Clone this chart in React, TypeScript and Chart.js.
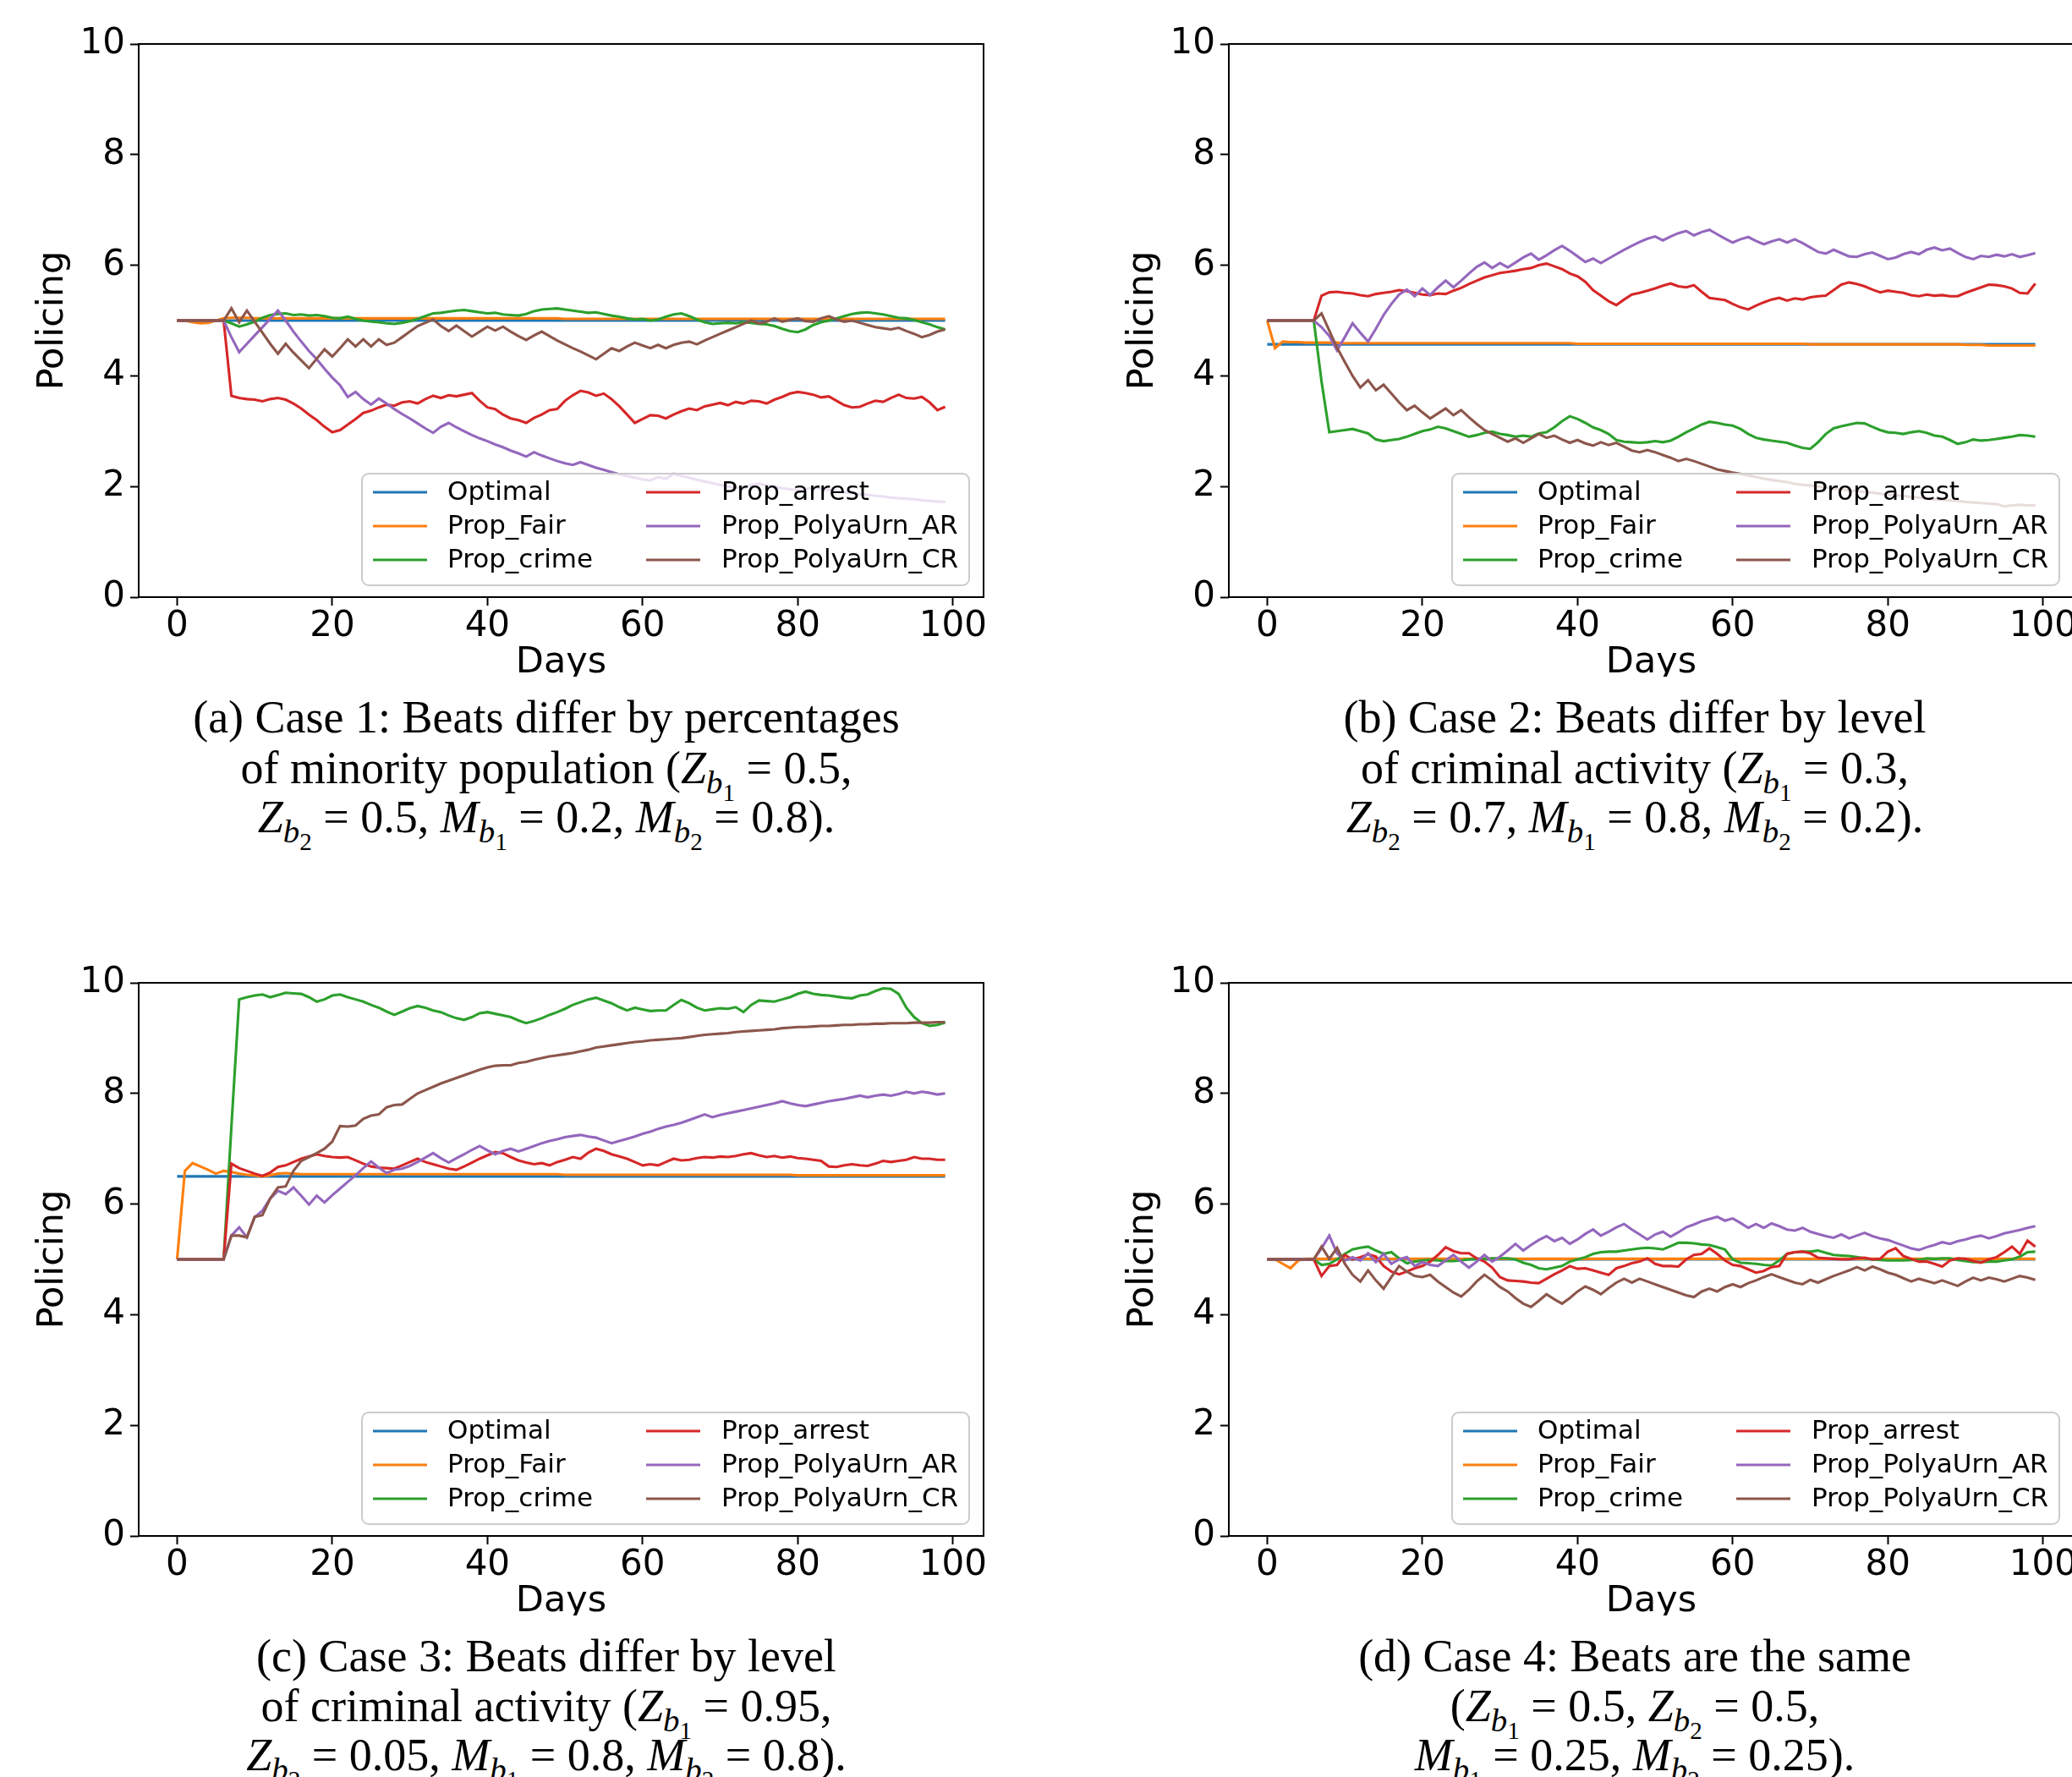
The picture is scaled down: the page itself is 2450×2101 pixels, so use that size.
import React, { useEffect, useRef } from "react";
import { Chart, registerables } from "chart.js";

Chart.register(...registerables);

// ---------- data ----------
const DAYS = Array.from({ length: 100 }, (_, i) => i);
const X_TICKS = [0, 20, 40, 60, 80, 100];
const Y_TICKS = [0, 2, 4, 6, 8, 10];
const LABELS = ["Optimal", "Prop_Fair", "Prop_crime", "Prop_arrest", "Prop_PolyaUrn_AR", "Prop_PolyaUrn_CR"];
const COLORS = ["#1f77b4", "#ff7f0e", "#2ca02c", "#d62728", "#9467bd", "#8c564b"];

// Case 1
const A_OPTIMAL = [
  5, 5, 5, 5, 5, 5, 5, 5, 5, 5,
  5, 5, 5, 5, 5, 5, 5, 5, 5, 5,
  5, 5, 5, 5, 5, 5, 5, 5, 5, 5,
  5, 5, 5, 5, 5, 5, 5, 5, 5, 5,
  5, 5, 5, 5, 5, 5, 5, 5, 5, 5,
  5, 5, 5, 5, 5, 5, 5, 5, 5, 5,
  5, 5, 5, 5, 5, 5, 5, 5, 5, 5,
  5, 5, 5, 5, 5, 5, 5, 5, 5, 5,
  5, 5, 5, 5, 5, 5, 5, 5, 5, 5,
  5, 5, 5, 5, 5, 5, 5, 5, 5, 5,
];
const A_FAIR = [
  5, 5, 4.97, 4.95, 4.96, 5, 5.04, 5.05, 5.05, 5.05,
  5.04, 5.04, 5.04, 5.04, 5.04, 5.04, 5.04, 5.04, 5.04, 5.04,
  5.04, 5.04, 5.04, 5.04, 5.04, 5.04, 5.04, 5.04, 5.04, 5.04,
  5.04, 5.04, 5.04, 5.04, 5.04, 5.04, 5.04, 5.04, 5.04, 5.04,
  5.04, 5.04, 5.04, 5.04, 5.04, 5.04, 5.04, 5.04, 5.04, 5.04,
  5.03, 5.03, 5.03, 5.03, 5.03, 5.03, 5.03, 5.03, 5.03, 5.03,
  5.03, 5.03, 5.03, 5.03, 5.03, 5.03, 5.03, 5.03, 5.03, 5.03,
  5.03, 5.03, 5.03, 5.03, 5.03, 5.03, 5.03, 5.03, 5.03, 5.03,
  5.03, 5.03, 5.03, 5.03, 5.03, 5.03, 5.03, 5.03, 5.03, 5.03,
  5.03, 5.03, 5.03, 5.03, 5.03, 5.03, 5.03, 5.03, 5.03, 5.03,
];
const A_CRIME = [
  5, 5, 5, 5, 5, 5, 5, 4.95, 4.89, 4.93,
  4.98, 5.05, 5.1, 5.12, 5.13, 5.1, 5.11, 5.09, 5.1, 5.08,
  5.05, 5.04, 5.07, 5.03, 5, 4.98, 4.97, 4.95, 4.94, 4.96,
  4.99, 5.03, 5.08, 5.13, 5.14, 5.16, 5.18, 5.19, 5.17, 5.15,
  5.13, 5.14, 5.11, 5.1, 5.09, 5.12, 5.17, 5.2, 5.21, 5.22,
  5.2, 5.18, 5.16, 5.14, 5.15, 5.12, 5.09, 5.07, 5.04, 5.02,
  5.03, 5, 5.02, 5.07, 5.11, 5.13, 5.08, 5.02, 4.97, 4.94,
  4.95, 4.96, 4.95, 4.97, 4.96, 4.94, 4.93, 4.9, 4.85, 4.81,
  4.79, 4.84, 4.92, 4.97, 5, 5.04, 5.08, 5.12, 5.14, 5.15,
  5.13, 5.11, 5.08, 5.05, 5.04, 5.01, 4.97, 4.93, 4.88, 4.84,
];
const A_ARREST = [
  5, 5, 5, 5, 5, 5, 5, 3.64, 3.6, 3.58,
  3.57, 3.54, 3.58, 3.6, 3.57, 3.5, 3.41, 3.3, 3.2, 3.08,
  2.98, 3.02, 3.12, 3.22, 3.33, 3.37, 3.43, 3.48, 3.46, 3.52,
  3.54, 3.5, 3.58, 3.64, 3.6, 3.65, 3.63, 3.66, 3.69, 3.55,
  3.43, 3.4, 3.3, 3.23, 3.2, 3.15, 3.24, 3.3, 3.38, 3.4,
  3.55, 3.65, 3.73, 3.7, 3.64, 3.68, 3.58, 3.45, 3.3, 3.15,
  3.22, 3.29, 3.28, 3.23, 3.3, 3.36, 3.41, 3.38, 3.45, 3.48,
  3.51, 3.47, 3.53, 3.5, 3.55, 3.54, 3.5, 3.57, 3.62, 3.68,
  3.71, 3.69, 3.66, 3.61, 3.63, 3.55, 3.47, 3.43, 3.44, 3.5,
  3.55, 3.53, 3.6, 3.66, 3.6, 3.59, 3.62, 3.52, 3.38, 3.44,
];
const A_POLYA_AR = [
  5, 5, 5, 5, 5, 5, 5, 4.7, 4.43, 4.58,
  4.73, 4.88, 5.03, 5.18, 5, 4.8, 4.62, 4.45, 4.3, 4.13,
  3.97, 3.83, 3.62, 3.71, 3.58, 3.48, 3.59, 3.5, 3.4, 3.31,
  3.23, 3.14, 3.05, 2.97, 3.08, 3.15, 3.07, 3, 2.93, 2.87,
  2.82, 2.76, 2.71, 2.65, 2.6, 2.54, 2.62, 2.56, 2.51, 2.46,
  2.42, 2.39, 2.44, 2.39, 2.34, 2.3, 2.26, 2.22, 2.19, 2.16,
  2.13, 2.11, 2.17, 2.14, 2.23, 2.19, 2.16, 2.12, 2.09, 2.06,
  2.03, 2, 1.98, 1.96, 2.03, 2.05, 2.02, 2, 1.97, 1.95,
  1.93, 1.95, 1.98, 1.96, 1.94, 1.92, 1.9, 1.88, 1.86, 1.85,
  1.83, 1.82, 1.8, 1.79, 1.78, 1.77, 1.75, 1.74, 1.73, 1.72,
];
const A_POLYA_CR = [
  5, 5, 5, 5, 5, 5, 5, 5.22, 4.97, 5.18,
  4.98, 4.78, 4.58, 4.4, 4.58, 4.42, 4.28, 4.14, 4.31, 4.48,
  4.35, 4.5, 4.66, 4.53, 4.66, 4.53, 4.66, 4.56, 4.6, 4.7,
  4.8, 4.9, 4.96, 5.02, 4.9, 4.81, 4.91, 4.81, 4.71, 4.8,
  4.89, 4.82, 4.89, 4.8, 4.72, 4.65, 4.73, 4.8, 4.72, 4.64,
  4.57, 4.5, 4.44, 4.37, 4.3, 4.4, 4.5, 4.45, 4.53, 4.6,
  4.55, 4.5, 4.56, 4.5, 4.56, 4.6, 4.62, 4.57, 4.64, 4.7,
  4.76, 4.82, 4.88, 4.94, 5, 4.95, 4.98, 5.04, 4.98, 5.01,
  5.04, 4.99, 4.98, 5.04, 5.08, 5.02, 4.98, 5, 4.96, 4.92,
  4.88, 4.86, 4.84, 4.87, 4.81, 4.76, 4.7, 4.74, 4.8, 4.84,
];

// Case 2
const B_OPTIMAL = [
  4.57, 4.57, 4.57, 4.57, 4.57, 4.57, 4.57, 4.57, 4.57, 4.57,
  4.57, 4.57, 4.57, 4.57, 4.57, 4.57, 4.57, 4.57, 4.57, 4.57,
  4.57, 4.57, 4.57, 4.57, 4.57, 4.57, 4.57, 4.57, 4.57, 4.57,
  4.57, 4.57, 4.57, 4.57, 4.57, 4.57, 4.57, 4.57, 4.57, 4.57,
  4.57, 4.57, 4.57, 4.57, 4.57, 4.57, 4.57, 4.57, 4.57, 4.57,
  4.57, 4.57, 4.57, 4.57, 4.57, 4.57, 4.57, 4.57, 4.57, 4.57,
  4.57, 4.57, 4.57, 4.57, 4.57, 4.57, 4.57, 4.57, 4.57, 4.57,
  4.57, 4.57, 4.57, 4.57, 4.57, 4.57, 4.57, 4.57, 4.57, 4.57,
  4.57, 4.57, 4.57, 4.57, 4.57, 4.57, 4.57, 4.57, 4.57, 4.57,
  4.57, 4.57, 4.57, 4.57, 4.57, 4.57, 4.57, 4.57, 4.57, 4.57,
];
const B_FAIR = [
  5, 4.5, 4.62, 4.61, 4.61, 4.6, 4.6, 4.6, 4.6, 4.6,
  4.59, 4.59, 4.59, 4.59, 4.59, 4.59, 4.59, 4.59, 4.59, 4.59,
  4.59, 4.59, 4.59, 4.59, 4.59, 4.59, 4.59, 4.59, 4.59, 4.59,
  4.59, 4.59, 4.59, 4.59, 4.59, 4.59, 4.59, 4.59, 4.59, 4.59,
  4.58, 4.58, 4.58, 4.58, 4.58, 4.58, 4.58, 4.58, 4.58, 4.58,
  4.58, 4.58, 4.58, 4.58, 4.58, 4.58, 4.58, 4.58, 4.58, 4.58,
  4.58, 4.58, 4.58, 4.58, 4.58, 4.58, 4.58, 4.58, 4.58, 4.58,
  4.57, 4.57, 4.57, 4.57, 4.57, 4.57, 4.57, 4.57, 4.57, 4.57,
  4.57, 4.57, 4.57, 4.57, 4.57, 4.57, 4.57, 4.57, 4.57, 4.57,
  4.56, 4.56, 4.56, 4.55, 4.55, 4.55, 4.55, 4.55, 4.55, 4.55,
];
const B_CRIME = [
  5, 5, 5, 5, 5, 5, 5, 3.9, 2.98, 3,
  3.02, 3.04, 3, 2.96, 2.85, 2.82, 2.84, 2.86, 2.9, 2.95,
  3, 3.03, 3.08, 3.05, 3, 2.95, 2.9, 2.93, 2.97, 2.99,
  2.95, 2.93, 2.9, 2.92, 2.9, 2.96, 2.98, 3.07, 3.18, 3.27,
  3.22, 3.15, 3.07, 3.02, 2.95, 2.84, 2.81, 2.8, 2.79, 2.8,
  2.82, 2.8, 2.83, 2.9, 2.98, 3.05, 3.12, 3.17, 3.15, 3.12,
  3.1, 3.04, 2.95, 2.88, 2.85, 2.83, 2.81, 2.79, 2.74, 2.7,
  2.68, 2.8, 2.95, 3.05, 3.09, 3.12, 3.15, 3.14, 3.08, 3.02,
  2.98, 2.97, 2.95, 2.98, 3, 2.97, 2.92, 2.9, 2.84, 2.77,
  2.8, 2.85, 2.83, 2.84, 2.86, 2.88, 2.9, 2.93, 2.92, 2.9,
];
const B_ARREST = [
  5, 5, 5, 5, 5, 5, 5, 5.45, 5.51, 5.52,
  5.5, 5.49, 5.46, 5.44, 5.48, 5.5, 5.52, 5.55, 5.53, 5.5,
  5.47, 5.46, 5.49, 5.48, 5.54, 5.59, 5.66, 5.72, 5.78, 5.82,
  5.86, 5.88, 5.9, 5.93, 5.95, 6, 6.03, 5.98, 5.93, 5.85,
  5.8, 5.7, 5.55, 5.45, 5.35, 5.28, 5.38, 5.47, 5.5, 5.54,
  5.58, 5.63, 5.67, 5.62, 5.6, 5.64, 5.52, 5.41, 5.39, 5.37,
  5.3, 5.24, 5.2, 5.27, 5.33, 5.38, 5.41, 5.36, 5.4, 5.38,
  5.42, 5.44, 5.45, 5.55, 5.65, 5.69, 5.66, 5.62, 5.56, 5.51,
  5.54, 5.52, 5.5, 5.46, 5.44, 5.47, 5.45, 5.46, 5.44, 5.44,
  5.5, 5.55, 5.6, 5.65, 5.64, 5.62, 5.58, 5.5, 5.49, 5.67,
];
const B_POLYA_AR = [
  5, 5, 5, 5, 5, 5, 5, 4.88, 4.72, 4.46,
  4.7, 4.95, 4.78, 4.62, 4.85, 5.1, 5.3, 5.47, 5.56, 5.44,
  5.58, 5.46, 5.6, 5.72, 5.6, 5.72, 5.85, 5.97, 6.05, 5.95,
  6.04, 5.96, 6.05, 6.14, 6.21, 6.1, 6.18, 6.27, 6.35, 6.26,
  6.16, 6.06, 6.12, 6.04, 6.12, 6.2, 6.28, 6.35, 6.42, 6.48,
  6.52, 6.45, 6.52, 6.58, 6.62, 6.54, 6.6, 6.64, 6.56, 6.48,
  6.41, 6.47, 6.51, 6.44, 6.38, 6.43, 6.47, 6.41, 6.47, 6.4,
  6.32, 6.24, 6.21, 6.28, 6.22, 6.16, 6.15, 6.2, 6.23, 6.17,
  6.11, 6.14, 6.2, 6.24, 6.2, 6.28, 6.32, 6.27, 6.3, 6.22,
  6.15, 6.11, 6.17, 6.15, 6.19, 6.16, 6.2, 6.15, 6.18, 6.22,
];
const B_POLYA_CR = [
  5, 5, 5, 5, 5, 5, 5, 5.13, 4.82, 4.51,
  4.25, 4, 3.79, 3.92, 3.74, 3.84, 3.68, 3.52, 3.38, 3.46,
  3.34, 3.23, 3.32, 3.41, 3.29, 3.38, 3.25, 3.13, 3.02, 2.95,
  2.88, 2.81, 2.87, 2.79, 2.87, 2.95, 2.88, 2.92, 2.85, 2.79,
  2.84, 2.78, 2.74, 2.8, 2.75, 2.79, 2.72, 2.65, 2.62, 2.66,
  2.62, 2.57, 2.52, 2.46, 2.5, 2.46, 2.41, 2.36, 2.31, 2.28,
  2.25, 2.23, 2.2, 2.17, 2.14, 2.12, 2.1, 2.08, 2.05, 2.03,
  2.02, 2, 1.98, 1.96, 1.95, 1.93, 1.92, 1.9, 1.89, 1.87,
  1.85, 1.84, 1.83, 1.81, 1.8, 1.78, 1.77, 1.76, 1.75, 1.74,
  1.72, 1.71, 1.7, 1.69, 1.68, 1.64, 1.66, 1.67, 1.66, 1.66,
];

// Case 3
const C_OPTIMAL = [
  6.5, 6.5, 6.5, 6.5, 6.5, 6.5, 6.5, 6.5, 6.5, 6.5,
  6.5, 6.5, 6.5, 6.5, 6.5, 6.5, 6.5, 6.5, 6.5, 6.5,
  6.5, 6.5, 6.5, 6.5, 6.5, 6.5, 6.5, 6.5, 6.5, 6.5,
  6.5, 6.5, 6.5, 6.5, 6.5, 6.5, 6.5, 6.5, 6.5, 6.5,
  6.5, 6.5, 6.5, 6.5, 6.5, 6.5, 6.5, 6.5, 6.5, 6.5,
  6.5, 6.5, 6.5, 6.5, 6.5, 6.5, 6.5, 6.5, 6.5, 6.5,
  6.5, 6.5, 6.5, 6.5, 6.5, 6.5, 6.5, 6.5, 6.5, 6.5,
  6.5, 6.5, 6.5, 6.5, 6.5, 6.5, 6.5, 6.5, 6.5, 6.5,
  6.5, 6.5, 6.5, 6.5, 6.5, 6.5, 6.5, 6.5, 6.5, 6.5,
  6.5, 6.5, 6.5, 6.5, 6.5, 6.5, 6.5, 6.5, 6.5, 6.5,
];
const C_FAIR = [
  5, 6.6, 6.74, 6.68, 6.62, 6.55, 6.6, 6.58, 6.55, 6.53,
  6.52, 6.5, 6.52, 6.55, 6.56, 6.55, 6.54, 6.54, 6.54, 6.54,
  6.54, 6.54, 6.54, 6.54, 6.54, 6.54, 6.54, 6.54, 6.54, 6.54,
  6.54, 6.54, 6.54, 6.54, 6.54, 6.54, 6.54, 6.54, 6.54, 6.54,
  6.54, 6.54, 6.54, 6.54, 6.54, 6.54, 6.54, 6.54, 6.54, 6.54,
  6.53, 6.53, 6.53, 6.53, 6.53, 6.53, 6.53, 6.53, 6.53, 6.53,
  6.53, 6.53, 6.53, 6.53, 6.53, 6.53, 6.53, 6.53, 6.53, 6.53,
  6.53, 6.53, 6.53, 6.53, 6.53, 6.53, 6.53, 6.53, 6.53, 6.53,
  6.52, 6.52, 6.52, 6.52, 6.52, 6.52, 6.52, 6.52, 6.52, 6.52,
  6.52, 6.52, 6.52, 6.52, 6.52, 6.52, 6.52, 6.52, 6.52, 6.52,
];
const C_CRIME = [
  5, 5, 5, 5, 5, 5, 5, 7.4, 9.7, 9.74,
  9.77, 9.79, 9.74, 9.78, 9.82, 9.81, 9.8, 9.74, 9.66, 9.7,
  9.77, 9.79, 9.74, 9.7, 9.66, 9.6, 9.55, 9.48, 9.42, 9.48,
  9.54, 9.58, 9.55, 9.5, 9.47, 9.41, 9.36, 9.33, 9.38, 9.45,
  9.47, 9.44, 9.41, 9.38, 9.32, 9.27, 9.31, 9.36, 9.42, 9.47,
  9.53, 9.6, 9.65, 9.7, 9.73, 9.68, 9.63, 9.56, 9.5, 9.55,
  9.52, 9.49, 9.5, 9.5, 9.6, 9.69, 9.63, 9.55, 9.5, 9.52,
  9.54, 9.53, 9.56, 9.47, 9.6, 9.68, 9.67, 9.66, 9.7, 9.74,
  9.8, 9.84, 9.8, 9.78, 9.77, 9.75, 9.73, 9.72, 9.77, 9.79,
  9.85, 9.9, 9.89, 9.8, 9.55, 9.38, 9.27, 9.22, 9.24, 9.28,
];
const C_ARREST = [
  5, 5, 5, 5, 5, 5, 5, 6.73, 6.65, 6.6,
  6.55, 6.51, 6.57, 6.67, 6.7, 6.76, 6.82, 6.86, 6.9, 6.87,
  6.85, 6.84, 6.85, 6.79, 6.73, 6.68, 6.66, 6.65, 6.64, 6.7,
  6.76, 6.82, 6.76, 6.72, 6.68, 6.64, 6.62, 6.68, 6.75, 6.82,
  6.88, 6.94, 6.92, 6.85, 6.79, 6.75, 6.72, 6.74, 6.7, 6.76,
  6.8, 6.85, 6.82, 6.93, 7, 6.96, 6.9, 6.86, 6.82, 6.76,
  6.7, 6.72, 6.7, 6.76, 6.82, 6.79, 6.8, 6.83, 6.85, 6.84,
  6.86, 6.85, 6.87, 6.9, 6.92, 6.88, 6.85, 6.87, 6.84, 6.86,
  6.83, 6.82, 6.8, 6.78, 6.68, 6.67, 6.7, 6.72, 6.7, 6.69,
  6.73, 6.78, 6.76, 6.78, 6.8, 6.85, 6.82, 6.82, 6.8, 6.8,
];
const C_POLYA_AR = [
  5, 5, 5, 5, 5, 5, 5, 5.43, 5.58, 5.4,
  5.76, 5.88, 6.1, 6.24, 6.18, 6.3, 6.15, 5.99, 6.15, 6.03,
  6.16, 6.28, 6.4, 6.52, 6.65, 6.77, 6.66, 6.56, 6.62, 6.64,
  6.69, 6.76, 6.84, 6.92, 6.83, 6.75, 6.83, 6.9, 6.98, 7.05,
  6.97, 6.9, 6.96, 7, 6.95, 7, 7.05, 7.1, 7.14, 7.17,
  7.21, 7.23, 7.25, 7.22, 7.2, 7.15, 7.1, 7.14, 7.18, 7.22,
  7.27, 7.31, 7.36, 7.4, 7.43, 7.47, 7.52, 7.57, 7.62, 7.57,
  7.61, 7.64, 7.67, 7.7, 7.73, 7.76, 7.79, 7.82, 7.86, 7.82,
  7.79, 7.77, 7.8, 7.83, 7.86, 7.88, 7.9, 7.93, 7.96, 7.93,
  7.96, 7.98, 7.96, 7.99, 8.03, 8, 8.03, 8.01, 7.98, 8,
];
const C_POLYA_CR = [
  5, 5, 5, 5, 5, 5, 5, 5.43, 5.43, 5.4,
  5.77, 5.8, 6.1, 6.3, 6.32, 6.6, 6.78, 6.85, 6.92, 7,
  7.13, 7.41, 7.4, 7.42, 7.54, 7.6, 7.62, 7.75, 7.79, 7.8,
  7.9, 8, 8.06, 8.12, 8.18, 8.23, 8.28, 8.33, 8.38, 8.43,
  8.47, 8.5, 8.51, 8.51, 8.55, 8.57, 8.61, 8.64, 8.67, 8.69,
  8.71, 8.73, 8.76, 8.79, 8.83, 8.85, 8.87, 8.89, 8.91, 8.93,
  8.94, 8.96, 8.97, 8.98, 8.99, 9, 9.02, 9.04, 9.06, 9.07,
  9.08, 9.09, 9.11, 9.12, 9.13, 9.14, 9.15, 9.16, 9.18, 9.19,
  9.2, 9.2, 9.21, 9.22, 9.22, 9.23, 9.24, 9.24, 9.25, 9.25,
  9.26, 9.26, 9.27, 9.27, 9.27, 9.28, 9.28, 9.28, 9.29, 9.29,
];

// Case 4
const D_OPTIMAL = [
  5, 5, 5, 5, 5, 5, 5, 5, 5, 5,
  5, 5, 5, 5, 5, 5, 5, 5, 5, 5,
  5, 5, 5, 5, 5, 5, 5, 5, 5, 5,
  5, 5, 5, 5, 5, 5, 5, 5, 5, 5,
  5, 5, 5, 5, 5, 5, 5, 5, 5, 5,
  5, 5, 5, 5, 5, 5, 5, 5, 5, 5,
  5, 5, 5, 5, 5, 5, 5, 5, 5, 5,
  5, 5, 5, 5, 5, 5, 5, 5, 5, 5,
  5, 5, 5, 5, 5, 5, 5, 5, 5, 5,
  5, 5, 5, 5, 5, 5, 5, 5, 5, 5,
];
const D_FAIR = [
  5, 5, 4.92, 4.84, 4.98, 5.01, 5.01, 5.01, 5.01, 5.01,
  5.01, 5.01, 5.01, 5.01, 5.01, 5.01, 5.01, 5.01, 5.01, 5.01,
  5.01, 5.01, 5.01, 5.01, 5.01, 5.01, 5.01, 5.01, 5.01, 5.01,
  5.01, 5.01, 5.01, 5.01, 5.01, 5.01, 5.01, 5.01, 5.01, 5.01,
  5.01, 5.01, 5.01, 5.01, 5.01, 5.01, 5.01, 5.01, 5.01, 5.01,
  5.01, 5.01, 5.01, 5.01, 5.01, 5.01, 5.01, 5.01, 5.01, 5.01,
  5.01, 5.01, 5.01, 5.01, 5.01, 5.01, 5.01, 5.01, 5.01, 5.01,
  5.01, 5.01, 5.01, 5.01, 5.01, 5.01, 5.01, 5.01, 5.01, 5.01,
  5.01, 5.01, 5.01, 5.01, 5.01, 5.01, 5.01, 5.01, 5.01, 5.01,
  5.01, 5.01, 5.01, 5.01, 5.01, 5.01, 5.01, 5.01, 5.01, 5.01,
];
const D_CRIME = [
  5, 5, 5, 5, 5, 5, 5, 4.9, 4.92, 5,
  5.1, 5.18, 5.21, 5.23, 5.16, 5.1, 5.13, 5.02, 4.93, 4.96,
  4.98, 4.99, 4.98, 4.97, 4.97, 4.98, 5, 5.01, 5.01, 5.02,
  5.02, 5.02, 5, 4.94, 4.9, 4.84, 4.82, 4.85, 4.88, 4.96,
  5, 5.04, 5.1, 5.13, 5.14, 5.14, 5.16, 5.18, 5.2, 5.21,
  5.2, 5.18, 5.24, 5.3, 5.3, 5.29, 5.27, 5.26, 5.22, 5.18,
  5, 4.94, 4.93, 4.92, 4.9, 4.89, 4.98, 5.1, 5.13, 5.14,
  5.14, 5.16, 5.12, 5.08, 5.07, 5.06, 5.04, 5.02, 5, 4.99,
  4.98, 4.98, 4.98, 4.99, 4.99, 5.02, 5.01, 5.02, 5.02, 4.99,
  4.97, 4.95, 4.95, 4.96, 4.96, 4.98, 5, 5.05, 5.13, 5.14,
];
const D_ARREST = [
  5, 5, 5, 5, 5, 5, 5, 4.7, 4.88, 4.9,
  5.08, 5, 5.04, 5.09, 5.05, 4.88, 4.78, 4.73, 4.78, 4.84,
  4.88, 4.96, 5.08, 5.22, 5.15, 5.11, 5.11, 5.02, 4.96, 4.85,
  4.68, 4.62, 4.61, 4.6, 4.58, 4.57, 4.65, 4.73, 4.8, 4.88,
  4.83, 4.84, 4.8, 4.76, 4.72, 4.84, 4.88, 4.93, 4.96, 5.02,
  4.92, 4.88, 4.88, 4.87, 5, 5.08, 5.1, 5.2, 5.1, 4.98,
  4.9, 4.88, 4.82, 4.76, 4.79, 4.86, 4.88, 5.1, 5.13, 5.14,
  5.11, 5.03, 5.02, 5.01, 5, 5, 5.02, 5.03, 5, 5.01,
  5.14, 5.2, 5.06, 5.01, 4.96, 4.96, 4.92, 4.87, 4.98, 5.02,
  5.01, 4.97, 4.94, 5, 5.04, 5.13, 5.23, 5.1, 5.34, 5.23,
];
const D_POLYA_AR = [
  5, 5, 5, 5, 5, 5, 5, 5.2, 5.43, 5.11,
  4.98, 5.04, 4.98, 5.11, 4.95, 5.1, 4.92, 5, 5.04, 4.88,
  4.95, 4.9, 4.88, 4.98, 5.08, 4.96, 4.85, 4.96, 5.08, 4.96,
  5.05, 5.16, 5.28, 5.16, 5.26, 5.35, 5.42, 5.33, 5.39, 5.28,
  5.36, 5.46, 5.54, 5.43, 5.5, 5.58, 5.64, 5.54, 5.45, 5.36,
  5.45, 5.5, 5.41, 5.49, 5.58, 5.63, 5.69, 5.73, 5.77, 5.7,
  5.74, 5.66, 5.57, 5.64, 5.57, 5.65, 5.6, 5.54, 5.52, 5.57,
  5.5, 5.46, 5.42, 5.39, 5.45, 5.38, 5.43, 5.48, 5.42, 5.38,
  5.35, 5.3, 5.25, 5.2, 5.17, 5.22, 5.26, 5.31, 5.28, 5.33,
  5.36, 5.4, 5.43, 5.38, 5.42, 5.47, 5.5, 5.53, 5.57, 5.6,
];
const D_POLYA_CR = [
  5, 5, 5, 5, 5, 5, 5, 5.23, 5.01, 5.21,
  4.92, 4.72, 4.6, 4.8, 4.62, 4.47, 4.68, 4.88, 4.78, 4.7,
  4.68, 4.72, 4.6, 4.5, 4.4, 4.33, 4.45, 4.6, 4.72, 4.62,
  4.5, 4.42, 4.3, 4.2, 4.14, 4.25, 4.37, 4.28, 4.2, 4.3,
  4.42, 4.51, 4.45, 4.37, 4.48, 4.58, 4.65, 4.58, 4.65, 4.6,
  4.55, 4.5, 4.45, 4.4, 4.35, 4.32, 4.42, 4.47, 4.42, 4.5,
  4.55, 4.5, 4.57, 4.62, 4.68, 4.73, 4.68, 4.63, 4.58, 4.55,
  4.63, 4.58, 4.64, 4.7, 4.75, 4.8, 4.86, 4.8, 4.87, 4.82,
  4.76, 4.72, 4.66, 4.6, 4.65, 4.61, 4.57, 4.62, 4.57, 4.52,
  4.6, 4.67, 4.62, 4.67, 4.64, 4.6, 4.65, 4.7, 4.67, 4.63,
];

const SERIES_A = [A_OPTIMAL, A_FAIR, A_CRIME, A_ARREST, A_POLYA_AR, A_POLYA_CR];
const SERIES_B = [B_OPTIMAL, B_FAIR, B_CRIME, B_ARREST, B_POLYA_AR, B_POLYA_CR];
const SERIES_C = [C_OPTIMAL, C_FAIR, C_CRIME, C_ARREST, C_POLYA_AR, C_POLYA_CR];
const SERIES_D = [D_OPTIMAL, D_FAIR, D_CRIME, D_ARREST, D_POLYA_AR, D_POLYA_CR];

// ---------- layout constants ----------
const CANVAS_W = 1225;
const CANVAS_H = 800;
const FONT = '"DejaVu Sans"';
const LINE_W = 3.1;

const mplPlugin = {
  id: "mplFrameLegend",
  afterDatasetsDraw(chart: any) {
    const { ctx, chartArea: a } = chart;
    ctx.save();
    // spines
    ctx.strokeStyle = "#000";
    ctx.lineWidth = 2;
    ctx.strokeRect(a.left, a.top, a.right - a.left, a.bottom - a.top);
    // legend (2 columns, lower right)
    const bw = 718;
    const bh = 132;
    const bx = a.right - 17 - bw;
    const by = a.bottom - 14 - bh;
    ctx.beginPath();
    ctx.roundRect(bx, by, bw, bh, 8);
    ctx.fillStyle = "rgba(255,255,255,0.8)";
    ctx.fill();
    ctx.strokeStyle = "#cccccc";
    ctx.lineWidth = 2;
    ctx.stroke();
    const rows = [22, 62, 102];
    ctx.font = `31px ${FONT}`;
    ctx.textBaseline = "middle";
    ctx.textAlign = "left";
    chart.data.datasets.forEach((ds: any, i: number) => {
      const col = Math.floor(i / 3);
      const row = i % 3;
      const y = by + rows[row];
      const hx = bx + (col ? 336 : 13);
      ctx.strokeStyle = ds.borderColor;
      ctx.lineWidth = LINE_W;
      ctx.beginPath();
      ctx.moveTo(hx, y);
      ctx.lineTo(hx + 64, y);
      ctx.stroke();
      ctx.fillStyle = "#000";
      ctx.fillText(ds.label, bx + (col ? 425 : 101), y + 1);
    });
    ctx.restore();
  },
};

function Panel({ left, top, series }: { left: number; top: number; series: number[][] }) {
  const ref = useRef<HTMLCanvasElement>(null);
  useEffect(() => {
    const chart = new Chart(ref.current as HTMLCanvasElement, {
      type: "line",
      data: {
        datasets: series.map((vals, i) => ({
          label: LABELS[i],
          data: DAYS.map((d, j) => ({ x: d, y: vals[j] })),
          borderColor: COLORS[i],
          backgroundColor: COLORS[i],
          borderWidth: LINE_W,
          pointRadius: 0,
          tension: 0,
          fill: false,
          order: 5 - i,
        })),
      },
      options: {
        animation: false,
        responsive: false,
        maintainAspectRatio: false,
        devicePixelRatio: 1,
        events: [],
        layout: { padding: { top: 52, right: 62, left: 0, bottom: 0 } },
        plugins: { legend: { display: false }, tooltip: { enabled: false } },
        scales: {
          x: {
            type: "linear",
            min: -4.95,
            max: 103.95,
            afterBuildTicks: (s: any) => {
              s.ticks = X_TICKS.map((v) => ({ value: v }));
            },
            afterFit: (s: any) => {
              s.height = 94;
            },
            ticks: {
              color: "#000",
              font: { family: FONT, size: 42, lineHeight: 1 },
              padding: 4,
              maxRotation: 0,
              autoSkip: false,
            },
            grid: {
              display: true,
              drawOnChartArea: false,
              drawTicks: true,
              tickLength: 10,
              tickColor: "#000",
              tickWidth: 2,
            },
            border: { display: false },
            title: {
              display: true,
              text: "Days",
              color: "#000",
              font: { family: FONT, size: 43, lineHeight: 1 },
              padding: { top: 0, bottom: -5 },
            },
          },
          y: {
            type: "linear",
            min: 0,
            max: 10,
            afterBuildTicks: (s: any) => {
              s.ticks = Y_TICKS.map((v) => ({ value: v }));
            },
            afterFit: (s: any) => {
              s.width = 164;
            },
            ticks: {
              color: "#000",
              font: { family: FONT, size: 42, lineHeight: 1 },
              padding: 6,
              autoSkip: false,
            },
            grid: {
              display: true,
              drawOnChartArea: false,
              drawTicks: true,
              tickLength: 10,
              tickColor: "#000",
              tickWidth: 2,
            },
            border: { display: false },
            title: {
              display: true,
              text: "Policing",
              color: "#000",
              font: { family: FONT, size: 43, lineHeight: 1 },
              padding: { top: 41, bottom: 0 },
            },
          },
        },
      },
      plugins: [mplPlugin],
    } as any);
    return () => chart.destroy();
  }, [series]);
  return (
    <canvas
      ref={ref}
      width={CANVAS_W}
      height={CANVAS_H}
      style={{ position: "absolute", left, top, width: CANVAS_W, height: CANVAS_H }}
    />
  );
}

const Zb = ({ n }: { n: number }) => (
  <>
    <i>Z</i>
    <sub style={{ fontSize: "0.72em", verticalAlign: "-0.3em", lineHeight: 0 }}>
      <i>b</i>
      <sub style={{ fontSize: "0.75em", verticalAlign: "-0.3em", lineHeight: 0 }}>{n}</sub>
    </sub>
  </>
);
const Mb = ({ n }: { n: number }) => (
  <>
    <i>M</i>
    <sub style={{ fontSize: "0.72em", verticalAlign: "-0.3em", lineHeight: 0 }}>
      <i>b</i>
      <sub style={{ fontSize: "0.75em", verticalAlign: "-0.3em", lineHeight: 0 }}>{n}</sub>
    </sub>
  </>
);

function CapLine({ cx, cy, children }: { cx: number; cy: number; children: React.ReactNode }) {
  return (
    <div
      style={{
        position: "absolute",
        left: cx,
        top: cy - 32,
        height: 64,
        lineHeight: "64px",
        transform: "translateX(-50%)",
        whiteSpace: "nowrap",
        fontFamily: '"Liberation Serif", "DejaVu Serif", serif',
        fontSize: 54,
        color: "#000",
      }}
    >
      {children}
    </div>
  );
}

export default function App() {
  const L = 646;
  const R = 1933;
  return (
    <div
      style={{
        position: "absolute",
        left: 0,
        top: 0,
        width: 2450,
        height: 2101,
        overflow: "hidden",
        background: "#fff",
      }}
    >
      <Panel left={0} top={0} series={SERIES_A} />
      <Panel left={1289} top={0} series={SERIES_B} />
      <Panel left={0} top={1110} series={SERIES_C} />
      <Panel left={1289} top={1110} series={SERIES_D} />

      <CapLine cx={L} cy={848}>(a) Case 1: Beats differ by percentages</CapLine>
      <CapLine cx={L} cy={908}>
        of minority population (<Zb n={1} /> = 0.5,
      </CapLine>
      <CapLine cx={L} cy={966}>
        <Zb n={2} /> = 0.5, <Mb n={1} /> = 0.2, <Mb n={2} /> = 0.8).
      </CapLine>

      <CapLine cx={R} cy={848}>(b) Case 2: Beats differ by level</CapLine>
      <CapLine cx={R} cy={908}>
        of criminal activity (<Zb n={1} /> = 0.3,
      </CapLine>
      <CapLine cx={R} cy={966}>
        <Zb n={2} /> = 0.7, <Mb n={1} /> = 0.8, <Mb n={2} /> = 0.2).
      </CapLine>

      <CapLine cx={L} cy={1958}>(c) Case 3: Beats differ by level</CapLine>
      <CapLine cx={L} cy={2017}>
        of criminal activity (<Zb n={1} /> = 0.95,
      </CapLine>
      <CapLine cx={L} cy={2075}>
        <Zb n={2} /> = 0.05, <Mb n={1} /> = 0.8, <Mb n={2} /> = 0.8).
      </CapLine>

      <CapLine cx={R} cy={1958}>(d) Case 4: Beats are the same</CapLine>
      <CapLine cx={R} cy={2017}>
        (<Zb n={1} /> = 0.5, <Zb n={2} /> = 0.5,
      </CapLine>
      <CapLine cx={R} cy={2075}>
        <Mb n={1} /> = 0.25, <Mb n={2} /> = 0.25).
      </CapLine>
    </div>
  );
}
